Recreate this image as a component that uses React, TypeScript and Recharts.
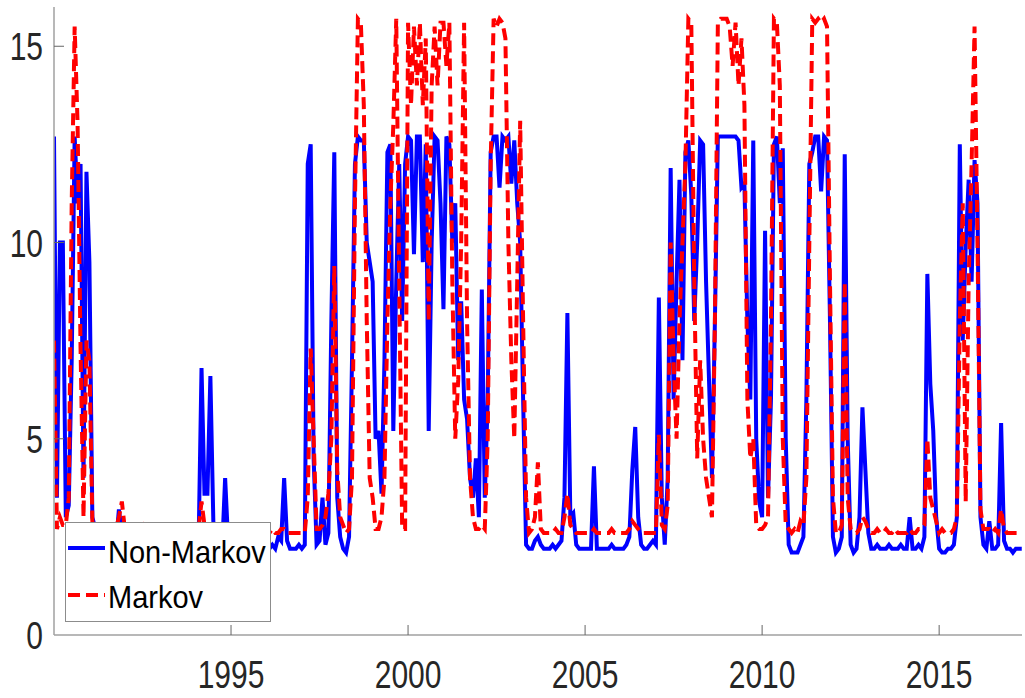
import React from 'react'
import { LineChart, Line, XAxis, YAxis, Legend } from 'recharts'

// monthly values, Jan 1990 .. May 2017
const START_YEAR = 1990

const nonMarkov = [
  // 1990
  12.7, 3.5, 10.0, 10.0, 3.0, 3.3, 7.0, 12.7, 11.0, 12.0, 4.0, 11.8,
  // 1991
  9.5, 3.0, 2.7, 2.3, 2.2, 2.2, 2.3, 2.2, 2.2, 2.3, 3.2, 2.6,
  // 1992
  2.2, 2.2, 2.3, 2.2, 2.2, 2.2, 2.3, 2.6, 2.2, 2.2, 2.3, 2.2,
  // 1993
  2.2, 2.3, 2.2, 2.2, 2.2, 2.3, 2.2, 2.2, 2.2, 2.3, 2.2, 2.2,
  // 1994
  2.2, 2.3, 6.8, 3.6, 3.6, 6.6, 2.9, 2.3, 2.2, 2.2, 4.0, 2.4,
  // 1995
  2.2, 2.2, 2.3, 2.2, 2.2, 2.2, 2.3, 2.2, 2.2, 2.2, 2.3, 2.2,
  // 1996
  2.2, 2.2, 2.3, 2.2, 2.5, 2.4, 4.0, 2.4, 2.2, 2.2, 2.2, 2.3,
  // 1997
  2.2, 2.3, 12.0, 12.5, 4.5, 2.3, 2.4, 3.5, 2.3, 2.6, 8.0, 12.3,
  // 1998
  3.5, 2.5, 2.2, 2.1, 2.5, 7.0, 12.0, 12.7, 12.6, 12.6, 10.0, 9.5,
  // 1999
  9.0, 5.0, 5.2, 3.6, 7.0, 12.3, 12.5, 5.2, 9.0, 12.0, 8.0, 12.0,
  // 2000
  12.7, 12.6, 9.7, 12.7, 12.7, 9.5, 12.5, 5.2, 10.0, 12.7, 12.6, 11.0,
  // 2001
  8.3, 12.7, 12.5, 10.0, 11.0, 7.0, 8.5, 6.0, 5.5, 4.0, 3.5, 4.5,
  // 2002
  3.0, 8.8, 3.5, 6.0, 12.3, 12.7, 12.7, 11.4, 12.7, 12.6, 12.7, 11.5,
  // 2003
  12.6, 11.0, 10.0, 6.0, 2.3, 2.2, 2.2, 2.4, 2.5, 2.3, 2.2, 2.2,
  // 2004
  2.2, 2.3, 2.2, 2.3, 2.4, 3.5, 8.2, 3.0, 3.1, 2.3, 2.2, 2.2,
  // 2005
  2.2, 2.2, 2.2, 4.3, 2.2, 2.2, 2.2, 2.2, 2.2, 2.3, 2.2, 2.2,
  // 2006
  2.2, 2.2, 2.3, 2.5, 4.2, 5.3, 3.0, 2.3, 2.2, 2.2, 2.3, 2.4,
  // 2007
  2.3, 8.6, 3.5, 2.3, 4.0, 11.9, 6.0, 9.0, 11.6, 7.0, 12.3, 12.6,
  // 2008
  11.2, 8.0, 10.0, 12.6, 12.5, 9.0, 6.5, 4.0, 8.0, 12.7, 12.7, 12.7,
  // 2009
  12.7, 12.7, 12.7, 12.7, 12.6, 11.4, 11.5, 8.0, 6.0, 12.6, 5.0, 3.4,
  // 2010
  3.0, 10.3, 3.5, 6.0, 12.5, 12.7, 11.0, 12.4, 5.0, 2.3, 2.1, 2.1,
  // 2011
  2.1, 2.3, 2.5, 6.0, 12.0, 12.3, 12.7, 12.7, 11.3, 12.7, 12.6, 8.0,
  // 2012
  2.5, 2.1, 2.2, 2.5, 12.25, 5.0, 2.3, 2.1, 2.2, 3.0, 5.8, 4.2,
  // 2013
  2.6, 2.2, 2.2, 2.3, 2.2, 2.2, 2.2, 2.3, 2.2, 2.2, 2.2, 2.3,
  // 2014
  2.2, 2.2, 3.0, 2.2, 2.2, 2.3, 2.2, 2.5, 9.2, 6.4, 5.2, 3.0,
  // 2015
  2.2, 2.1, 2.1, 2.2, 2.2, 2.3, 3.0, 12.5, 7.5, 9.9, 11.6, 9.0,
  // 2016
  12.1, 11.0, 3.0, 2.3, 2.2, 2.9, 2.2, 2.2, 2.3, 5.4, 2.4, 2.2,
  // 2017
  2.2, 2.1, 2.2, 2.2, 2.2,
]

const markov = [
  // 1990
  7.5, 2.7, 3.0, 2.8, 2.8, 3.5, 11.0, 15.5, 13.0, 7.3, 3.0, 7.5,
  // 1991
  7.0, 2.9, 2.7, 2.6, 2.6, 2.7, 2.6, 2.6, 2.6, 2.7, 3.0, 3.4,
  // 1992
  2.7, 2.6, 2.6, 2.6, 2.7, 2.6, 2.6, 2.9, 2.6, 2.6, 2.6, 2.7,
  // 1993
  2.6, 2.6, 2.6, 2.7, 2.6, 2.6, 2.6, 2.6, 2.7, 2.6, 2.6, 2.6,
  // 1994
  2.6, 2.7, 3.4, 2.8, 2.7, 2.7, 2.6, 2.6, 2.6, 2.6, 2.7, 2.6,
  // 1995
  2.6, 2.6, 2.6, 2.7, 2.6, 2.6, 2.6, 2.7, 2.6, 2.6, 2.6, 2.7,
  // 1996
  2.6, 2.6, 2.7, 2.6, 2.6, 2.7, 2.7, 2.6, 2.6, 2.6, 2.6, 2.6,
  // 1997
  2.6, 2.6, 3.5, 7.3, 5.0, 2.7, 2.7, 2.8, 3.0, 3.6, 5.0, 9.4,
  // 1998
  4.2, 3.0, 2.8, 2.6, 2.7, 4.0, 11.0, 15.7, 15.6, 13.5, 8.0, 4.0,
  // 1999
  3.5, 2.7, 2.7, 3.0, 4.0, 8.0, 11.0, 13.0, 15.7, 9.0, 2.7, 2.7,
  // 2000
  15.6, 13.5, 15.5, 14.0, 15.6, 13.5, 15.2, 8.0, 14.0, 15.5, 14.0, 15.6,
  // 2001
  15.6, 14.5, 15.6, 9.0, 5.0, 6.5, 10.0, 15.6, 8.0, 4.0, 3.0, 2.7,
  // 2002
  2.7, 2.8, 2.7, 5.0, 12.0, 15.7, 15.5, 15.7, 15.6, 15.2, 10.0, 7.0,
  // 2003
  5.0, 9.0, 13.1, 8.0, 3.5, 2.6, 2.7, 3.0, 4.4, 2.7, 2.6, 2.6,
  // 2004
  2.6, 2.6, 2.7, 2.6, 2.6, 3.0, 3.6, 2.8, 2.7, 2.6, 2.6, 2.6,
  // 2005
  2.6, 2.6, 2.6, 2.7, 2.6, 2.6, 2.6, 2.6, 2.6, 2.7, 2.6, 2.6,
  // 2006
  2.6, 2.6, 2.6, 2.7, 2.9, 2.8, 2.7, 2.6, 2.6, 2.6, 2.6, 2.6,
  // 2007
  2.6, 5.1, 2.8, 2.7, 3.3, 10.0, 7.0, 5.0, 8.0, 10.0, 12.0, 15.7,
  // 2008
  15.6, 9.0, 4.5, 7.0, 5.0, 4.0, 3.5, 3.0, 8.0, 15.6, 15.7, 15.7,
  // 2009
  15.7, 15.5, 14.5, 15.6, 14.0, 15.2, 13.5, 6.0, 4.5, 5.0, 2.8, 2.7,
  // 2010
  2.7, 2.8, 3.0, 8.0, 15.7, 15.6, 14.0, 5.0, 2.8, 2.7, 2.6, 2.7,
  // 2011
  2.6, 2.9, 2.8, 4.0, 10.0, 15.7, 15.6, 15.7, 15.6, 15.7, 15.5, 9.0,
  // 2012
  3.5, 2.6, 2.6, 2.8, 9.0, 3.5, 2.7, 2.6, 2.6, 2.7, 3.0, 2.9,
  // 2013
  2.7, 2.6, 2.6, 2.7, 2.6, 2.6, 2.7, 2.6, 2.6, 2.7, 2.6, 2.6,
  // 2014
  2.6, 2.6, 2.7, 2.6, 2.6, 2.7, 2.7, 2.8, 5.0, 3.5, 3.2, 2.9,
  // 2015
  2.6, 2.7, 2.6, 2.6, 2.6, 2.7, 3.0, 8.0, 11.0, 3.4, 9.0, 12.0,
  // 2016
  15.5, 10.0, 3.2, 2.7, 2.7, 2.7, 2.6, 2.7, 2.6, 3.2, 2.7, 2.6,
  // 2017
  2.6, 2.6, 2.6, 2.6, 2.6,
]

const xTicks = [1995, 2000, 2005, 2010, 2015]
const yTicks = [0, 5, 10, 15]

const series = [
  { key: 'nonMarkov', name: 'Non-Markov', color: '#0000ff', dash: undefined },
  { key: 'markov', name: 'Markov', color: '#ff0000', dash: '12 6' },
]

const data = nonMarkov.map((v, i) => ({
  t: START_YEAR + i / 12,
  nonMarkov: v,
  markov: markov[i],
}))

const FONT = '"Liberation Sans", Arial, Helvetica, sans-serif'
const TEXT_COLOR = '#262626'
const AXIS_COLOR = '#a0a0a0'

// ticks point inwards (matlab style), labels slightly stretched vertically
const XTick = (props: any) => {
  const { x, y, payload } = props
  return (
    <g>
      <line x1={x} x2={x} y1={y} y2={y - 10} stroke="#666" strokeWidth={1} />
      <g transform={`translate(${x},${y + 39}) scale(1,1.3)`}>
        <text x={0} y={10.8} textAnchor="middle" fontSize={30} fill={TEXT_COLOR} fontFamily={FONT}>
          {payload.value}
        </text>
      </g>
    </g>
  )
}

const YTick = (props: any) => {
  const { x, y, payload } = props
  return (
    <g>
      {payload.value !== 0 && <line x1={x} x2={x + 10} y1={y} y2={y} stroke="#666" strokeWidth={1} />}
      <g transform={`translate(${x - 11},${y}) scale(1,1.3)`}>
        <text x={0} y={10.8} textAnchor="end" fontSize={30} fill={TEXT_COLOR} fontFamily={FONT}>
          {payload.value}
        </text>
      </g>
    </g>
  )
}

const LegendBox = () => (
  <svg width={206} height={100} style={{ display: 'block' }}>
    <rect x={0.5} y={0.5} width={205} height={99} fill="#fff" stroke="#8c8c8c" strokeWidth={1} />
    {series.map((s, i) => {
      const ly = i === 0 ? 26 : 73
      const by = i === 0 ? 41 : 86
      return (
        <g key={s.key}>
          <line x1={3} x2={40} y1={ly} y2={ly} stroke={s.color} strokeWidth={4} strokeDasharray={s.dash} />
          <g transform={`translate(43,${by}) scale(1,1.1)`}>
            <text x={0} y={0} fontSize={29} fill="#000" fontFamily={FONT}>
              {s.name}
            </text>
          </g>
        </g>
      )
    })}
  </svg>
)

const App = () => {
  return (
    <div style={{ position: 'absolute', left: 0, top: 0, width: 1025, height: 698, background: '#fff' }}>
      <LineChart width={1025} height={698} data={data} margin={{ top: 7, right: 3, left: 0, bottom: 0 }}>
        <XAxis
          dataKey="t"
          type="number"
          domain={[1990, 2017.34]}
          ticks={xTicks}
          allowDataOverflow
          height={63}
          tickSize={0}
          tickMargin={0}
          tickLine={false}
          axisLine={{ stroke: AXIS_COLOR, strokeWidth: 1.5 }}
          tick={<XTick />}
          interval={0}
        />
        <YAxis
          type="number"
          domain={[0, 16]}
          ticks={yTicks}
          width={54}
          tickSize={0}
          tickMargin={0}
          tickLine={false}
          axisLine={{ stroke: AXIS_COLOR, strokeWidth: 1.5 }}
          tick={<YTick />}
          interval={0}
        />
        {series.map((s) => (
          <Line
            key={s.key}
            type="linear"
            dataKey={s.key}
            name={s.name}
            stroke={s.color}
            strokeWidth={4}
            strokeDasharray={s.dash}
            dot={false}
            activeDot={false}
            isAnimationActive={false}
          />
        ))}
        <Legend
          layout="vertical"
          align="center"
          verticalAlign="middle"
          content={<LegendBox />}
          wrapperStyle={{ position: 'absolute', left: 65, top: 522, width: 206, height: 100 }}
        />
      </LineChart>
    </div>
  )
}

export default App
